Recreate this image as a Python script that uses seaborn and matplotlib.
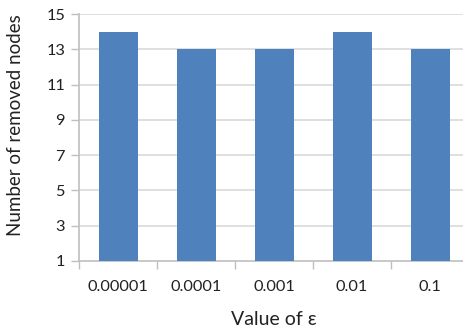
import matplotlib
matplotlib.use("Agg")
import matplotlib.pyplot as plt
import seaborn as sns
import pandas as pd
import numpy as np

# Number of removed nodes for each value of epsilon
epsilons = ["0.00001", "0.0001", "0.001", "0.01", "0.1"]
removed_nodes = [14, 13, 13, 14, 13]
y_ticks = [1, 3, 5, 7, 9, 11, 13, 15]

sns.set_theme(style="white")
plt.rcParams["font.family"] = ["Lato", "DejaVu Sans"]

df = pd.DataFrame({"epsilon": epsilons, "removed": removed_nodes})

fig = plt.figure(figsize=(4.63, 3.31), dpi=100)
ax = fig.add_axes([79 / 463, 70 / 331, 390 / 463, 247 / 331])

sns.barplot(data=df, x="epsilon", y="removed", order=epsilons,
            color="#4F81BD", saturation=1, width=0.5, linewidth=0, ax=ax,
            zorder=3)

ax.set_ylim(1, 15)
ax.set_xlim(-0.5, len(epsilons) - 0.5)
ax.set_yticks(y_ticks)
ax.set_yticklabels([str(t) for t in y_ticks], fontsize=11.8, color="#222222")
ax.tick_params(axis="y", length=6, width=1, color="#BFBFBF", pad=4, left=True)

# category labels centered, tick marks on category boundaries
ax.set_xticks(range(len(epsilons)))
ax.set_xticklabels(epsilons, fontsize=11.8, color="#222222")
ax.tick_params(axis="x", which="major", length=0, pad=14)
ax.set_xticks(np.arange(-0.5, len(epsilons)), minor=True)
ax.tick_params(axis="x", which="minor", length=6, width=1, color="#BFBFBF",
               bottom=True)

for t in y_ticks[1:]:
    ax.axhline(t, color="#D9D9D9", linewidth=1.2, zorder=1)

for side in ["top", "right"]:
    ax.spines[side].set_visible(False)
for side in ["left", "bottom"]:
    ax.spines[side].set_color("#BFBFBF")
    ax.spines[side].set_linewidth(1.2)

ax.set_xlabel("Value of ε", fontsize=14, color="#222222", labelpad=12)
ax.set_ylabel("Number of removed nodes", fontsize=13.5, color="#222222")
ax.yaxis.set_label_coords(-0.14, 0.55)

fig.savefig("out.png", dpi=100)
